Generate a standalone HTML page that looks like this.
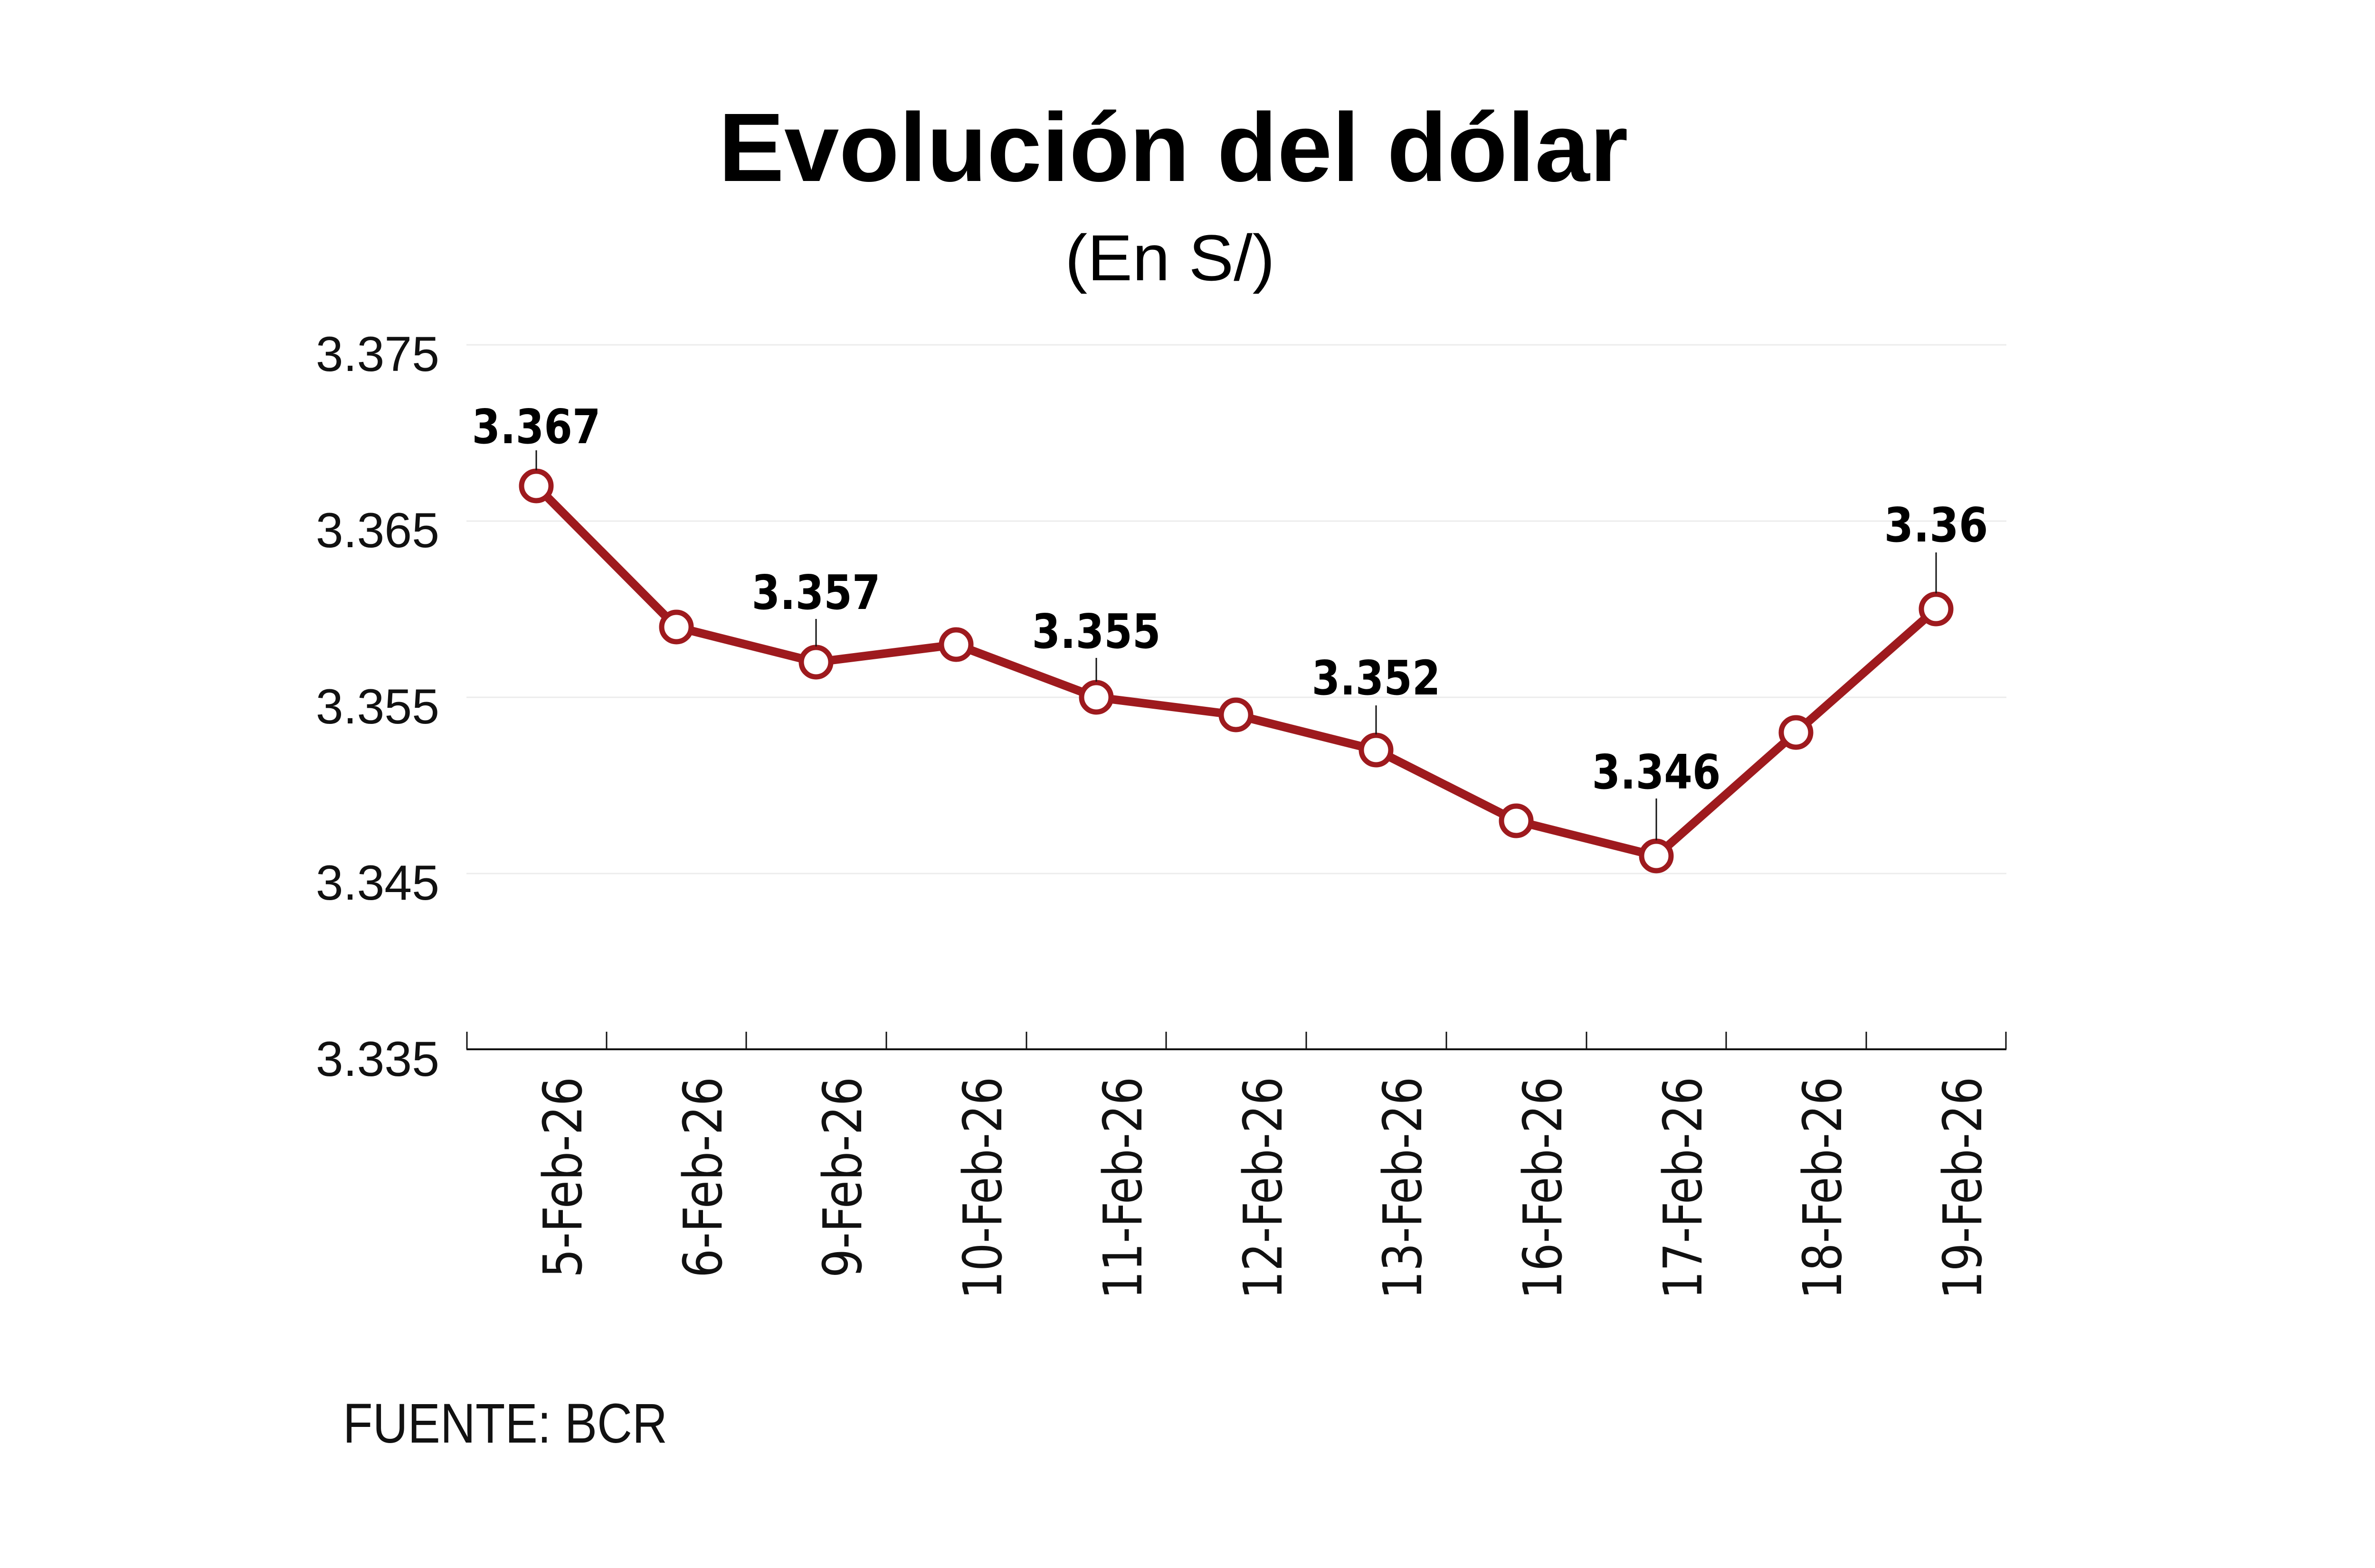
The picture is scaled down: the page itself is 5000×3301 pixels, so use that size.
<!DOCTYPE html>
<html><head><meta charset="utf-8"><style>html,body{margin:0;padding:0;background:#fff}svg{display:block}</style></head>
<body>
<svg xmlns="http://www.w3.org/2000/svg" width="5000" height="3301" viewBox="0 0 5000 3301">
<rect width="5000" height="3301" fill="#fff"/>
<text x="2470" y="381" text-anchor="middle" font-family="Liberation Sans, sans-serif" font-weight="bold" font-size="205" textLength="1915" lengthAdjust="spacingAndGlyphs">Evolución del dólar</text>
<text x="2463" y="590" text-anchor="middle" font-family="Liberation Sans, sans-serif" font-size="137" textLength="442" lengthAdjust="spacingAndGlyphs">(En S/)</text>
<g stroke="#ececec" stroke-width="3">
<line x1="982" y1="726" x2="4224" y2="726"/>
<line x1="982" y1="1097" x2="4224" y2="1097"/>
<line x1="982" y1="1468" x2="4224" y2="1468"/>
<line x1="982" y1="1839" x2="4224" y2="1839"/>
</g>
<g font-family="Liberation Sans, sans-serif" font-size="104" text-anchor="end" fill="#111">
<text x="925" y="781">3.375</text>
<text x="925" y="1152">3.365</text>
<text x="925" y="1523">3.355</text>
<text x="925" y="1894">3.345</text>
<text x="925" y="2265">3.335</text>
</g>
<line x1="982" y1="2209" x2="4224" y2="2209" stroke="#111" stroke-width="4"/>
<g stroke="#111" stroke-width="3">
<line x1="983" y1="2172" x2="983" y2="2209"/><line x1="1277" y1="2172" x2="1277" y2="2209"/><line x1="1571" y1="2172" x2="1571" y2="2209"/><line x1="1866" y1="2172" x2="1866" y2="2209"/><line x1="2161" y1="2172" x2="2161" y2="2209"/><line x1="2455" y1="2172" x2="2455" y2="2209"/><line x1="2750" y1="2172" x2="2750" y2="2209"/><line x1="3045" y1="2172" x2="3045" y2="2209"/><line x1="3340" y1="2172" x2="3340" y2="2209"/><line x1="3634" y1="2172" x2="3634" y2="2209"/><line x1="3929" y1="2172" x2="3929" y2="2209"/><line x1="4223" y1="2172" x2="4223" y2="2209"/>
</g>
<g font-family="DejaVu Sans, sans-serif" font-size="112" text-anchor="end" fill="#111">
<text transform="translate(1224,2267) rotate(-90)" textLength="423" lengthAdjust="spacingAndGlyphs">5-Feb-26</text>
<text transform="translate(1519,2267) rotate(-90)" textLength="423" lengthAdjust="spacingAndGlyphs">6-Feb-26</text>
<text transform="translate(1813,2267) rotate(-90)" textLength="423" lengthAdjust="spacingAndGlyphs">9-Feb-26</text>
<text transform="translate(2108,2267) rotate(-90)" textLength="468" lengthAdjust="spacingAndGlyphs">10-Feb-26</text>
<text transform="translate(2403,2267) rotate(-90)" textLength="468" lengthAdjust="spacingAndGlyphs">11-Feb-26</text>
<text transform="translate(2698,2267) rotate(-90)" textLength="468" lengthAdjust="spacingAndGlyphs">12-Feb-26</text>
<text transform="translate(2992,2267) rotate(-90)" textLength="468" lengthAdjust="spacingAndGlyphs">13-Feb-26</text>
<text transform="translate(3287,2267) rotate(-90)" textLength="468" lengthAdjust="spacingAndGlyphs">16-Feb-26</text>
<text transform="translate(3582,2267) rotate(-90)" textLength="468" lengthAdjust="spacingAndGlyphs">17-Feb-26</text>
<text transform="translate(3876,2267) rotate(-90)" textLength="468" lengthAdjust="spacingAndGlyphs">18-Feb-26</text>
<text transform="translate(4171,2267) rotate(-90)" textLength="468" lengthAdjust="spacingAndGlyphs">19-Feb-26</text>
</g>
<polyline fill="none" stroke="#9e1a1e" stroke-width="18" stroke-linejoin="round" points="1129,1023 1424,1320 1718,1394 2013,1357 2308,1468 2602,1505 2897,1579 3192,1728 3487,1802 3781,1542 4076,1282"/>
<g fill="#fff" stroke="#9e1a1e" stroke-width="11">
<circle cx="1129" cy="1023" r="31"/><circle cx="1424" cy="1320" r="31"/><circle cx="1718" cy="1394" r="31"/><circle cx="2013" cy="1357" r="31"/><circle cx="2308" cy="1468" r="31"/><circle cx="2602" cy="1505" r="31"/><circle cx="2897" cy="1579" r="31"/><circle cx="3192" cy="1728" r="31"/><circle cx="3487" cy="1802" r="31"/><circle cx="3781" cy="1542" r="31"/><circle cx="4076" cy="1282" r="31"/>
</g>
<g stroke="#111" stroke-width="3">
<line x1="1129" y1="948" x2="1129" y2="990"/>
<line x1="1718" y1="1303" x2="1718" y2="1361"/>
<line x1="2308" y1="1385" x2="2308" y2="1435"/>
<line x1="2897" y1="1485" x2="2897" y2="1546"/>
<line x1="3487" y1="1681" x2="3487" y2="1769"/>
<line x1="4076" y1="1163" x2="4076" y2="1249"/>
</g>
<g font-family="DejaVu Sans, sans-serif" font-weight="bold" font-size="100" text-anchor="middle" fill="#000">
<text x="1129" y="933" textLength="271" lengthAdjust="spacingAndGlyphs">3.367</text>
<text x="1718" y="1282" textLength="271" lengthAdjust="spacingAndGlyphs">3.357</text>
<text x="2308" y="1364" textLength="271" lengthAdjust="spacingAndGlyphs">3.355</text>
<text x="2897" y="1462" textLength="271" lengthAdjust="spacingAndGlyphs">3.352</text>
<text x="3487" y="1660" textLength="271" lengthAdjust="spacingAndGlyphs">3.346</text>
<text x="4076" y="1140" textLength="219" lengthAdjust="spacingAndGlyphs">3.36</text>
</g>
<text x="722" y="3037" font-family="Liberation Sans, sans-serif" font-size="118" fill="#111" textLength="683" lengthAdjust="spacingAndGlyphs">FUENTE: BCR</text>
</svg>
</body></html>
